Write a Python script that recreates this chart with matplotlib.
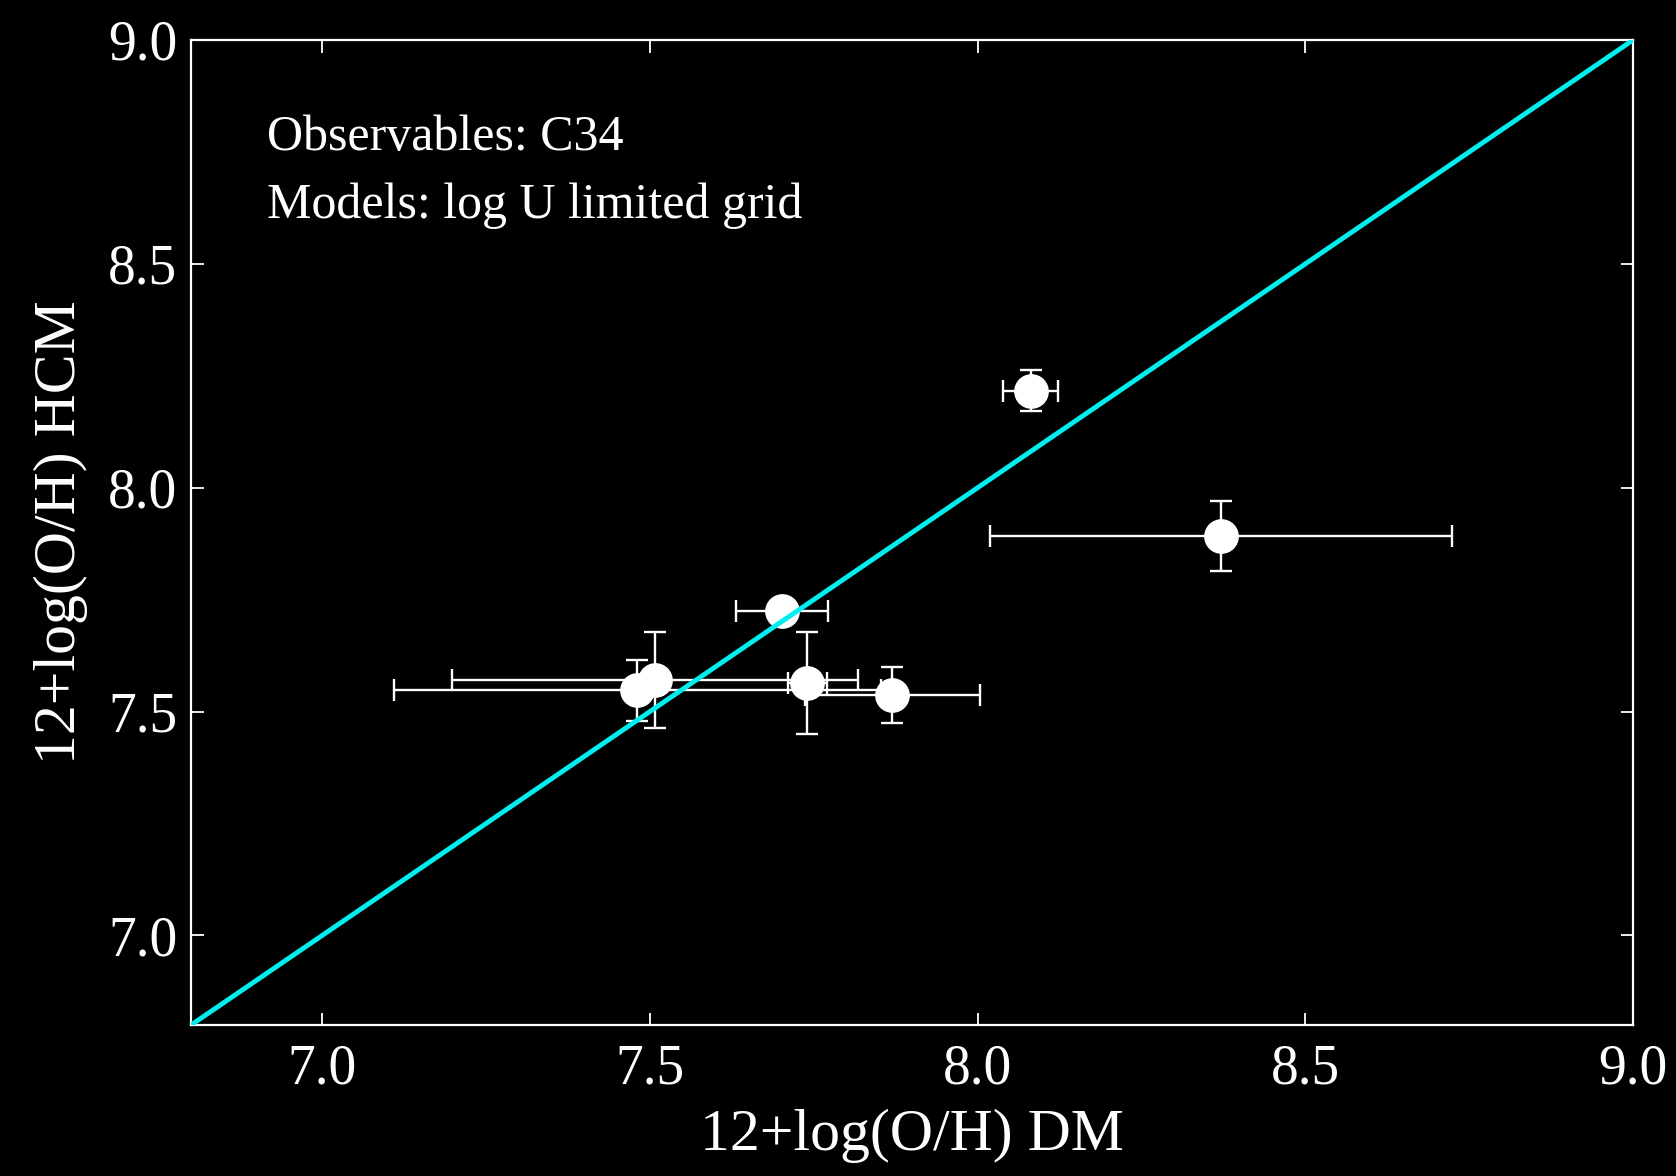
import numpy as np
import matplotlib
matplotlib.use("Agg")
import matplotlib.pyplot as plt

# Data
oh_dm = [7.701, 7.481, 7.508, 7.740, 7.870, 8.081, 8.371]
oh_dm_err = [0.070, 0.372, 0.310, 0.030, 0.133, 0.042, 0.352]
oh_hcm = [7.725, 7.548, 7.571, 7.563, 7.537, 8.217, 7.892]
oh_hcm_err = [0.020, 0.068, 0.107, 0.114, 0.062, 0.045, 0.078]

lims = [6.8, 9.0]
ticks = [7.0, 7.5, 8.0, 8.5, 9.0]
notes = ["Observables: C34", "Models: log U limited grid"]

plt.rcParams["font.family"] = ["Liberation Serif", "DejaVu Serif"]

fig = plt.figure(figsize=(16.76, 11.76), dpi=100, facecolor="black")
ax = fig.add_axes([0.114, 0.1284, 0.8604, 0.8376], facecolor="black")

ax.errorbar(oh_dm, oh_hcm, xerr=oh_dm_err, yerr=oh_hcm_err,
            fmt="o", color="white", ms=24, mec="white", mfc="white",
            ecolor="white", elinewidth=1.7, capsize=8, capthick=1.7,
            zorder=2)
ax.plot(lims, lims, color="#00eeee", lw=3.5, zorder=3)

ax.set(xlim=lims, ylim=lims, xticks=ticks, yticks=ticks)
ax.set_xticklabels([f"{t:.1f}" for t in ticks])
ax.set_yticklabels([f"{t:.1f}" for t in ticks])
ax.tick_params(axis="both", which="both", direction="in", top=True, right=True,
               length=9, width=1.3, colors="white", labelsize=40)
ax.tick_params(axis="x", pad=13)
ax.tick_params(axis="y", pad=10)
for spine in ax.spines.values():
    spine.set_color("white")
    spine.set_linewidth(1.6)

ax.set_xlabel("12+log(O/H) DM", color="white", fontsize=43, labelpad=10)
ax.set_ylabel("12+log(O/H) HCM", color="white", fontsize=43, labelpad=14)

ax.text(0.053, 0.888, notes[0], transform=ax.transAxes, color="white", fontsize=36)
ax.text(0.053, 0.819, notes[1], transform=ax.transAxes, color="white", fontsize=36)

fig.savefig("out.png", dpi=100, facecolor="black")
